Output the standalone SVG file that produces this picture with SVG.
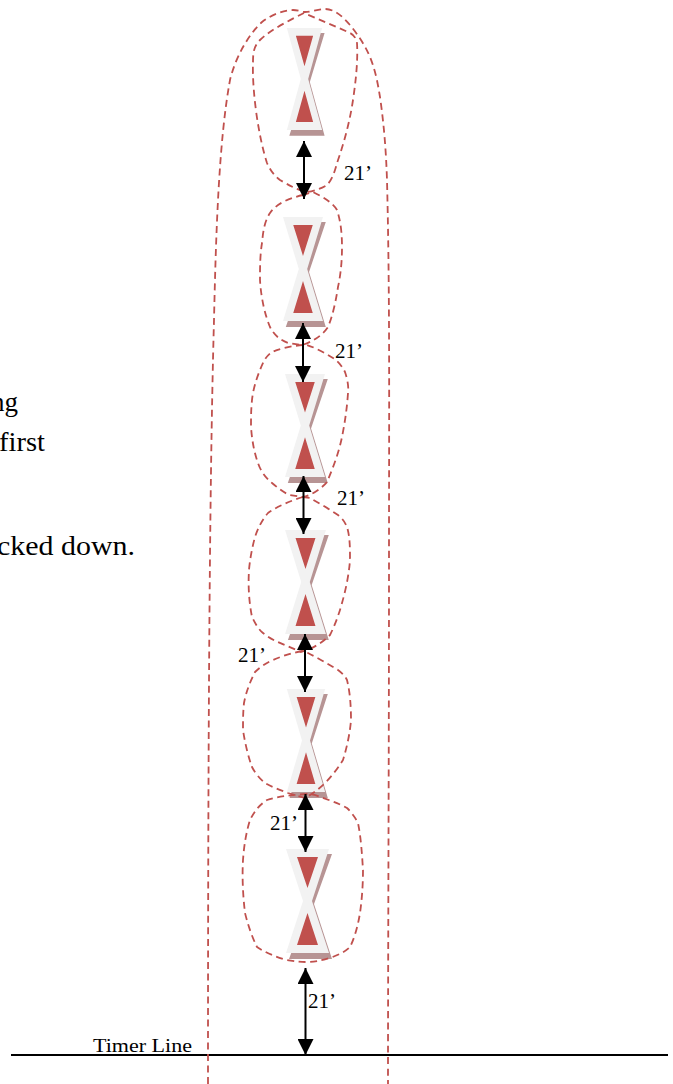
<svg xmlns="http://www.w3.org/2000/svg" width="673" height="1084" viewBox="0 0 673 1084">
<style>
.loop{fill:none;stroke:#c0504d;stroke-width:1.8;stroke-dasharray:7 4.5}
.arr{stroke:#000;stroke-width:2;fill:none;marker-start:url(#ah);marker-end:url(#ah)}
.t{font-family:"Liberation Serif",serif;fill:#000;font-size:21px}
.n{font-size:27px}
.s{fill:#b79494}.b{fill:#f2f2f2}.r{fill:#c0504d}
</style>
<defs>
<marker id="ah" viewBox="0 0 16 16" refX="16" refY="8" markerWidth="16" markerHeight="16" markerUnits="userSpaceOnUse" orient="auto-start-reverse"><path d="M0 0L16 8L0 16Z" fill="#000"/></marker>
<g id="pin">
<path class="s" d="M-18.5 5H24.5L6.5 55 24.5 110H-18.5L2 55Z"/>
<path class="b" d="M-21.5 0H21.5L4.5 52 21.5 104H-21.5L-4.5 52Z"/>
<path class="r" d="M-10.5 8H10.5L0 39ZM-10.5 96H10.5L0 64Z"/>
</g>
</defs>
<rect width="673" height="1084" fill="#fff"/>
<g id="notes">
<text class="t n" x="18" y="411" text-anchor="end">ng</text>
<text class="t n" x="-1" y="451" textLength="46" lengthAdjust="spacingAndGlyphs">first</text>
<text class="t n" x="-3" y="555" textLength="138" lengthAdjust="spacingAndGlyphs">cked down.</text>
</g>
<g id="timer-line">
<line x1="11" y1="1055" x2="668" y2="1055" stroke="#000" stroke-width="2"/>
<text class="t" x="93" y="1052" textLength="99" lengthAdjust="spacingAndGlyphs" style="font-size:18px">Timer Line</text>
</g>
<g id="pin-1"><use href="#pin" transform="translate(304.5 28) scale(.82 .98)"/></g>
<g id="pin-2"><use href="#pin" transform="translate(303 217) scale(.93 1)"/></g>
<g id="pin-3"><use href="#pin" transform="translate(305 374) scale(.93 .99)"/></g>
<g id="pin-4"><use href="#pin" transform="translate(305.5 530) scale(.95 1)"/></g>
<g id="pin-5"><use href="#pin" transform="translate(306 689) scale(.89 .99)"/></g>
<g id="pin-6"><use href="#pin" transform="translate(307.5 849)"/></g>
<g id="loops">
<path id="loop-outer" class="loop" d="M208 1084C208 800 209 500 214 320C216 230 219 140 230 80C236 55 250 33 262 22C272 14 285 10 293 10C298 10 302 12 305 12C311 12 318 9 325 9C335 9 343 17 350 25C358 35 365 45 370 57C376 72 378 85 380 97C384 125 386 150 387 180C390 300 389 420 389 560C389 750 388 950 388 1084"/>
<path id="loop-1" class="loop" d="M304 13C290 20 270 30 260 40C254 46 253 52 253 62C252 90 258 135 267 163C271 172 276 177 280 180C290 186 298 190 307 192C315 191 322 188 327 185C332 180 335 171 337 163C345 140 350 120 353 100C356 80 358 60 357 43C356 38 354 35 350 33C335 26 320 20 304 13Z"/>
<path id="loop-2" class="loop" d="M303 195C290 198 277 203 270 213C264 222 263 233 262 243C260 255 260 268 260 280C261 298 265 315 270 327C274 335 280 340 288 343L302 345C312 342 322 336 328 327C333 315 336 300 338 287C341 273 342 260 342 247C342 235 341 222 337 210C333 203 323 197 313 192Z"/>
<path id="loop-3" class="loop" d="M303 345C292 346 281 348 272 352C266 356 263 362 260 370C256 380 253 390 252 400C251 410 251 418 251 427C252 440 254 452 258 463C261 472 266 478 272 483C278 488 284 493 290 495L303 497C312 495 321 489 327 482C333 468 339 452 342 437C345 422 347 408 348 393C349 386 347 378 345 372C342 366 338 361 333 358C325 353 316 348 307 345Z"/>
<path id="loop-4" class="loop" d="M303 497C290 501 278 506 268 513C262 520 258 528 255 537C252 548 250 559 249 570C248 586 249 602 252 617C255 623 258 629 263 633C268 637 273 640 278 642L301 652C312 649 322 643 330 635C335 625 339 614 342 603C346 589 349 574 350 560C350 548 350 537 347 527C345 522 342 518 338 515C329 509 319 503 310 498Z"/>
<path id="loop-5" class="loop" d="M302 651C292 653 282 656 273 660C266 663 260 667 255 672C250 682 246 692 244 703C243 712 243 721 243 730C245 743 248 756 252 767C255 773 260 779 265 783C272 787 280 790 288 793L305 798C312 794 319 789 325 783C332 776 338 768 343 760C347 747 350 733 351 720C351 706 350 692 347 680C345 676 342 673 338 670C328 664 318 658 308 653Z"/>
<path id="loop-6" class="loop" d="M307 794C293 795 279 796 267 800C259 805 254 812 250 820C246 833 244 846 243 860C242 878 243 896 245 913C248 925 252 937 257 947C266 953 276 957 287 960C294 961 300 962 307 962C315 962 322 960 330 958C338 955 345 952 350 947C355 937 358 925 360 913C362 899 363 884 363 870C362 854 361 838 358 823C355 817 351 812 347 808C338 803 329 800 320 797C316 795 311 794 307 794Z"/>
</g>
<g id="connectors">
<line class="arr" x1="304" y1="141" x2="304" y2="199"/>
<line class="arr" x1="303" y1="323" x2="303" y2="382"/>
<line class="arr" x1="303.5" y1="476" x2="303.5" y2="534"/>
<line class="arr" x1="305" y1="634" x2="305" y2="692"/>
<line class="arr" x1="305.5" y1="794" x2="305.5" y2="852"/>
<line class="arr" x1="305.5" y1="968" x2="305.5" y2="1055"/>
</g>
<g id="labels">
<text class="t" x="344" y="180" textLength="28" lengthAdjust="spacingAndGlyphs">21’</text>
<text class="t" x="335" y="358" textLength="28" lengthAdjust="spacingAndGlyphs">21’</text>
<text class="t" x="337" y="505" textLength="28" lengthAdjust="spacingAndGlyphs">21’</text>
<text class="t" x="238" y="662" textLength="28" lengthAdjust="spacingAndGlyphs">21’</text>
<text class="t" x="270" y="830" textLength="28" lengthAdjust="spacingAndGlyphs">21’</text>
<text class="t" x="308" y="1008" textLength="28" lengthAdjust="spacingAndGlyphs">21’</text>
</g>
</svg>
